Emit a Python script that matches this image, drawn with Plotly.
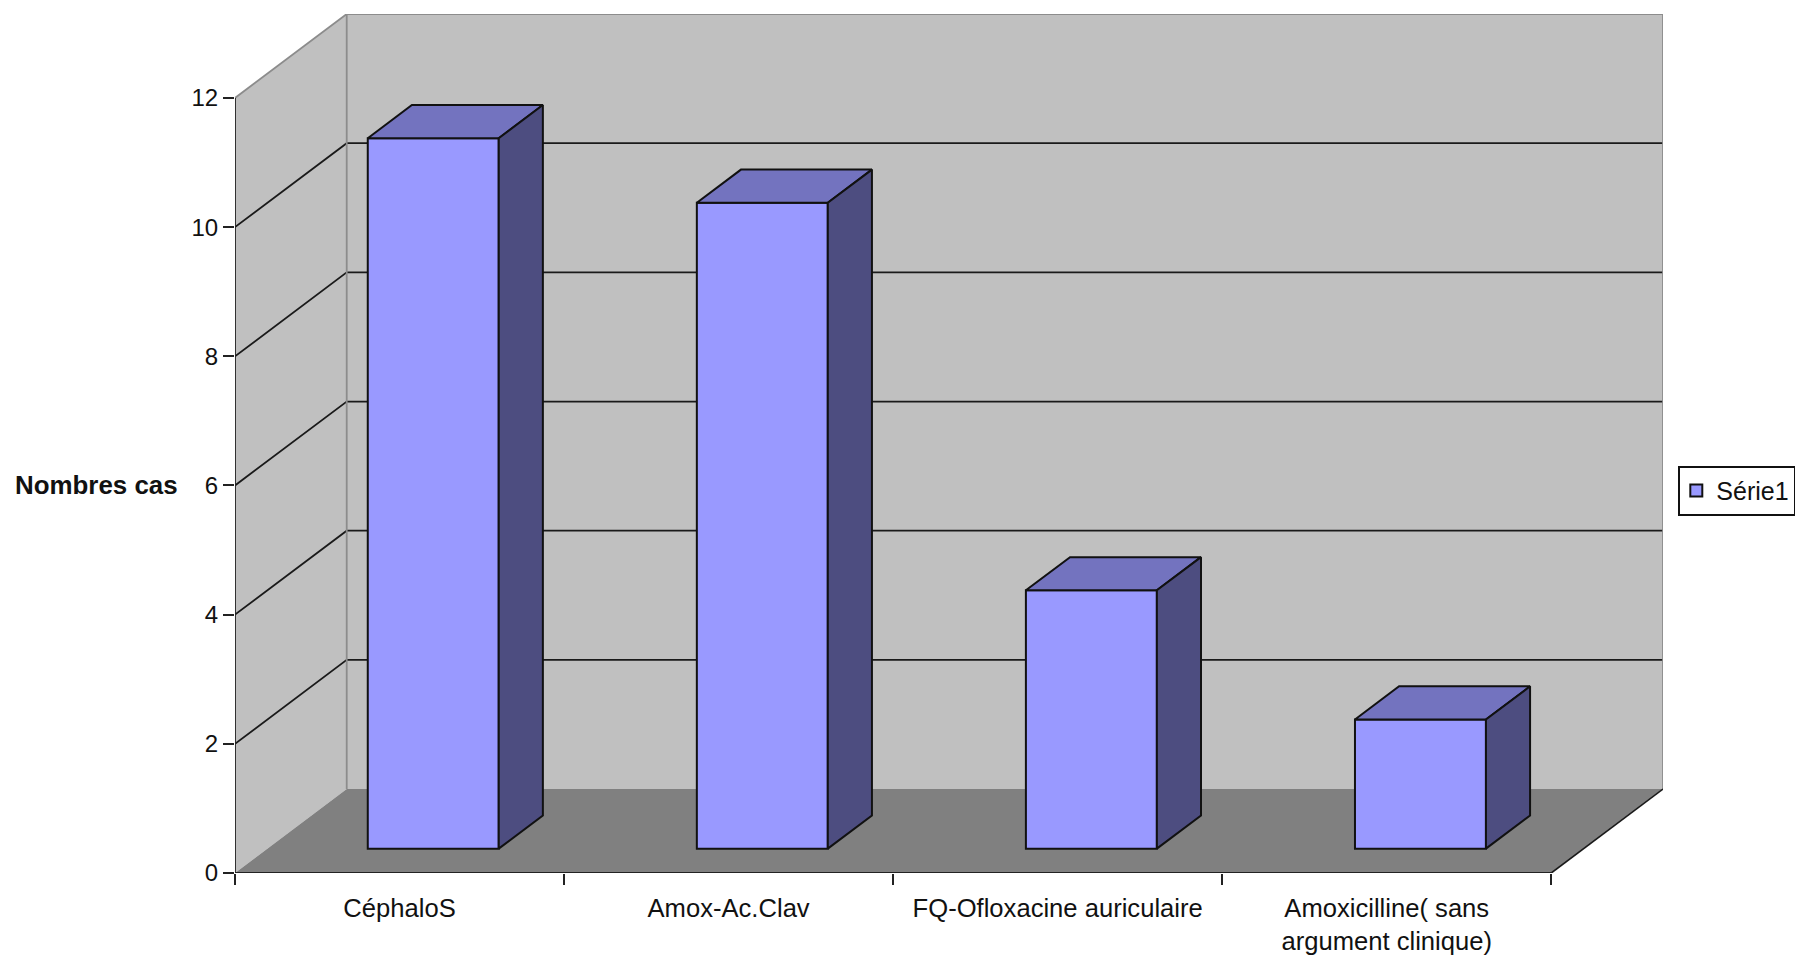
import plotly.graph_objects as go

categories = ["CéphaloS", "Amox-Ac.Clav", "FQ-Ofloxacine auriculaire", "Amoxicilline( sans<br>argument clinique)"]
values = [11, 10, 4, 2]
y_ticks = [0, 2, 4, 6, 8, 10, 12]
series_name = "Série1"

W, H = 1795, 959
L, R, T, B = 235.0, 1662.7, 14.0, 873.3
KX = 111.7 / 329.0   # oblique shift of the full depth, in category units
KY = 84.0 / 64.63    # oblique shift of the full depth, in value units
N = len(categories)
YMAX = y_ticks[-1]
D0, D1 = 0.29, 0.685
BAR_START, BAR_W = 0.305, 0.398


def px(x, y, d=0.0):
    return x + d * KX, y + d * KY


def poly(points, **kw):
    xs, ys = zip(*points)
    path = "M" + " L".join(f"{a},{b}" for a, b in zip(xs, ys)) + " Z"
    return dict(type="path", path=path, xref="x", yref="y", layer="below", **kw)


def seg(points, color, width):
    xs, ys = zip(*points)
    path = "M" + " L".join(f"{a},{b}" for a, b in zip(xs, ys))
    return dict(type="path", path=path, xref="x", yref="y", layer="below",
                line=dict(color=color, width=width))


none = dict(width=0)
shapes = [
    poly([px(0, 0), px(0, YMAX), px(0, YMAX, 1), px(0, 0, 1)], fillcolor="#C0C0C0", line=none),
    poly([px(0, 0, 1), px(0, YMAX, 1), px(N, YMAX, 1), px(N, 0, 1)], fillcolor="#C0C0C0", line=none),
    poly([px(0, 0), px(N, 0), px(N, 0, 1), px(0, 0, 1)], fillcolor="#808080", line=none),
]
for v in y_ticks[1:-1]:
    shapes.append(seg([px(0, v), px(0, v, 1), px(N, v, 1)], "#1a1a1a", 1.8))
shapes += [
    seg([px(0, YMAX), px(0, YMAX, 1), px(N, YMAX, 1), px(N, 0, 1)], "#8c8c8c", 1.8),
    seg([px(0, YMAX, 1), px(0, 0, 1)], "#8c8c8c", 1.8),
    seg([px(N, 0), px(N, 0, 1)], "#1a1a1a", 1.6),
]

front_x, front_base = [], []
top_x, top_y, side_x, side_y = [], [], [], []
for i, v in enumerate(values):
    x0, x1 = i + BAR_START, i + BAR_START + BAR_W
    fx, fb = px((x0 + x1) / 2, 0, D0)
    front_x.append(fx)
    front_base.append(fb)
    for p in [px(x0, v, D0), px(x0, v, D1), px(x1, v, D1), px(x1, v, D0), px(x0, v, D0)]:
        top_x.append(p[0]); top_y.append(p[1])
    top_x.append(None); top_y.append(None)
    for p in [px(x1, 0, D0), px(x1, 0, D1), px(x1, v, D1), px(x1, v, D0), px(x1, 0, D0)]:
        side_x.append(p[0]); side_y.append(p[1])
    side_x.append(None); side_y.append(None)

fig = go.Figure()
fig.add_trace(go.Bar(x=front_x, y=values, base=front_base, width=BAR_W, name=series_name,
                     marker=dict(color="#9999FF", line=dict(color="#111111", width=2)),
                     showlegend=True, hoverinfo="skip"))
fig.add_trace(go.Scatter(x=top_x, y=top_y, mode="lines", fill="toself", fillcolor="#7373BF",
                         line=dict(color="#111111", width=2), showlegend=False, hoverinfo="skip"))
fig.add_trace(go.Scatter(x=side_x, y=side_y, mode="lines", fill="toself", fillcolor="#4D4D80",
                         line=dict(color="#111111", width=2), showlegend=False, hoverinfo="skip"))
fig.add_trace(go.Scatter(x=[0, 0, N], y=[YMAX, 0, 0], mode="lines", cliponaxis=False,
                         line=dict(color="#222222", width=1.8), showlegend=False, hoverinfo="skip"))

family = "Liberation Sans, Arial, sans-serif"
font = dict(family=family, size=24, color="#111111")
cat_font = dict(family=family, size=25.6, color="#111111")
leg_font = dict(family=family, size=25, color="#111111")
fig.update_layout(
    width=W, height=H, autosize=False,
    margin=dict(l=L, r=W - R, t=T, b=H - B, pad=0, autoexpand=False),
    paper_bgcolor="white", plot_bgcolor="white", font=font,
    barmode="overlay", shapes=shapes,
    xaxis=dict(range=[0, N + KX], showgrid=False, zeroline=False, showline=False,
               tickmode="array", tickvals=[i + 0.5 for i in range(N)], ticktext=categories,
               ticks="", tickangle=0, ticklabelstandoff=17, tickfont=cat_font,
               minor=dict(tickmode="array", tickvals=list(range(N + 1)), ticks="outside",
                          ticklen=11, tickwidth=1.8, tickcolor="#222222", showgrid=False)),
    yaxis=dict(range=[0, YMAX + KY], showgrid=False, zeroline=False, showline=False,
               tickmode="array", tickvals=y_ticks, ticks="outside", ticklen=11, tickwidth=1.8,
               tickcolor="#222222", tickfont=font),
    legend=dict(x=(1678 - L) / (R - L), y=(B - 466) / (B - T), xanchor="left", yanchor="top",
                bordercolor="#111111", borderwidth=2, bgcolor="white", font=leg_font,
                itemwidth=30, indentation=-4, traceorder="normal"),
    annotations=[dict(text="<b>Nombres cas</b>", xref="paper", yref="paper",
                      x=(97 - L) / (R - L), y=(B - 485) / (B - T), showarrow=False,
                      xanchor="center", yanchor="middle",
                      font=dict(family=family, size=25.9, color="#111111"))],
    hovermode=False,
)
fig.write_html("out.html", config=dict(displayModeBar=False),
               post_script="document.body.style.margin='0';document.body.style.overflow='hidden';")
